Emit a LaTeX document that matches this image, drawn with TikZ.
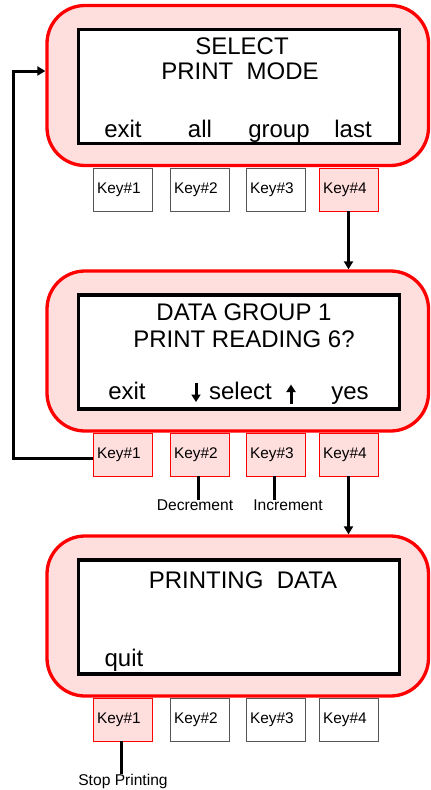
\documentclass[tikz,border=0pt]{standalone}
\usepackage{fontspec}
\setmainfont{Liberation Sans}
\usetikzlibrary{arrows.meta}
\definecolor{pinkfill}{HTML}{FFDEDE}
\definecolor{redline}{HTML}{FF0000}
\definecolor{keygray}{HTML}{555555}
\tikzset{
  panel/.style={draw=redline, fill=pinkfill, line width=3.3pt, rounded corners=38pt, minimum width=381.5pt, minimum height=160pt, inner sep=0pt},
  screen/.style={draw=black, fill=white, line width=3.2pt, minimum width=321pt, minimum height=114pt, inner sep=0pt},
  keyw/.style={draw=keygray, fill=white, line width=0.9pt, minimum width=59pt, minimum height=43pt, text width=51pt, inner xsep=4pt, inner ysep=0pt, align=left, font=\fontsize{15.4}{18}\selectfont},
  keyp/.style={keyw, draw=redline, fill=pinkfill},
  disp/.style={anchor=base, inner sep=0pt, font=\fontsize{24}{28}\selectfont},
  lbl/.style={anchor=base, inner sep=0pt, font=\fontsize{15.6}{18}\selectfont},
  conn/.style={line width=3pt, -{Triangle[length=8pt,width=9pt]}},
  plain/.style={line width=3pt},
  smallarr/.style={line width=3pt, -{Triangle[length=7.5pt,width=9pt]}}
}
\begin{document}
\begin{tikzpicture}[x=1pt,y=-1pt]
\useasboundingbox (0,0) rectangle (431,790);

% ---------- panel 1 ----------
\node[panel] (p1) at (237.75,85.5) {};
\node[screen] (s1) at (239,86.5) {};
\node[disp] (t1a) at (242,54.3) {SELECT};
\node[disp] (t1b) at (240,79.3) {PRINT\ \ MODE};
\node[disp] (b11) at (123,137) {exit};
\node[disp] (b12) at (200,137) {all};
\node[disp] (b13) at (279,137) {group};
\node[disp] (b14) at (353,137) {last};
\node[keyw] (k11) at (122.5,189.5) {Key\#1};
\node[keyw] (k12) at (199.5,189.5) {Key\#2};
\node[keyw] (k13) at (275.5,189.5) {Key\#3};
\node[keyp] (k14) at (348.5,189.5) {Key\#4};

% ---------- panel 2 ----------
\node[panel] (p2) at (237.75,351) {};
\node[screen] (s2) at (239,352) {};
\node[disp] (t2a) at (244,320) {DATA GROUP 1};
\node[disp] (t2b) at (244,347.3) {PRINT READING 6?};
\node[disp] (b21) at (127,399.3) {exit};
\node[disp] (b22) at (240.5,399.3) {select};
\node[disp] (b24) at (350,399.3) {yes};
\coordinate (dnA) at (196,382.5);
\coordinate (dnB) at (196,402);
\coordinate (upA) at (291,403.5);
\coordinate (upB) at (291,384.5);
\draw[smallarr] (dnA) -- (dnB);
\draw[smallarr] (upA) -- (upB);
\node[keyp] (k21) at (122.5,454.5) {Key\#1};
\node[keyp] (k22) at (199.5,454.5) {Key\#2};
\node[keyp] (k23) at (275.5,454.5) {Key\#3};
\node[keyp] (k24) at (348.5,454.5) {Key\#4};
\node[lbl] (dec) at (195,510.7) {Decrement};
\node[lbl] (inc) at (288,510.7) {Increment};

% ---------- panel 3 ----------
\node[panel] (p3) at (237.75,616) {};
\node[screen] (s3) at (239,617) {};
\node[disp] (t3a) at (243,588.3) {PRINTING\ \ DATA};
\node[disp] (b31) at (124,666) {quit};
\node[keyp] (k31) at (122.5,719.5) {Key\#1};
\node[keyw] (k32) at (199.5,719.5) {Key\#2};
\node[keyw] (k33) at (275.5,719.5) {Key\#3};
\node[keyw] (k34) at (348.5,719.5) {Key\#4};
\node[lbl] (stop) at (123,785) {Stop Printing};

% ---------- connectors ----------
\draw[conn] (k14.south) -- (k14.south |- p2.north);
\draw[conn] (k24.south) -- (k24.south |- p3.north);
\coordinate (fbA) at (13,458.3);
\coordinate (fbB) at (13,71);
\draw[conn] ([yshift=-3.8pt]k21.west) -- (fbA) -- (fbB) -- (fbB -| p1.west);
\draw[plain] ([xshift=-1.5pt]k22.south) -- ([xshift=-1.5pt]k22.south |- dec.north);
\draw[plain] ([xshift=-1.5pt]k23.south) -- ([xshift=-1.5pt]k23.south |- inc.north);
\draw[plain] ([xshift=-1.5pt]k31.south) -- ([xshift=-1.5pt]k31.south |- stop.north);
\end{tikzpicture}
\end{document}
